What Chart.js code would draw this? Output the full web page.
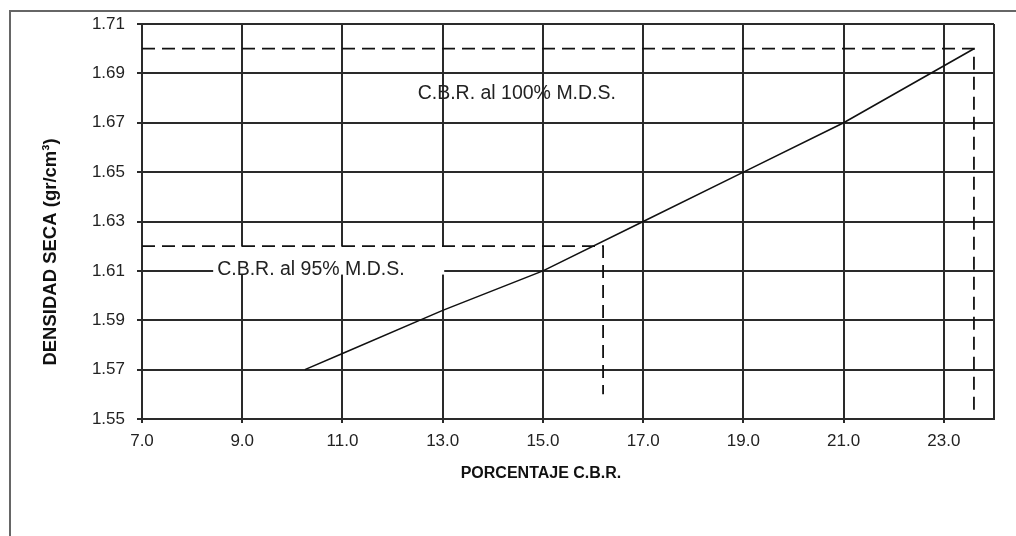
<!DOCTYPE html>
<html>
<head>
<meta charset="utf-8">
<script src="https://cdn.jsdelivr.net/npm/chart.js@4.4.1/dist/chart.umd.min.js"></script>
<style>
  html, body { margin: 0; padding: 0; background: #fff; }
  #wrap { width: 1016px; height: 536px; }
</style>
</head>
<body>
<div id="wrap"><canvas id="cbrChart" width="1016" height="536"></canvas></div>
<script>
// curve: porcentaje C.B.R. vs densidad seca
const cbrValues = [10.25, 11.0, 13.0, 15.0, 17.0, 19.0, 21.0, 23.6];
const densValues = [1.570, 1.5765, 1.594, 1.610, 1.630, 1.650, 1.670, 1.700];

// dashed reference lines (100% and 95% M.D.S.)
const ref100X = [7.0, 23.6, 23.6];
const ref100Y = [1.70, 1.70, 1.551];
const ref95X = [7.0, 16.2, 16.2];
const ref95Y = [1.62, 1.62, 1.56];

const xTicks = [7, 9, 11, 13, 15, 17, 19, 21, 23];
const yTicks = [1.55, 1.57, 1.59, 1.61, 1.63, 1.65, 1.67, 1.69, 1.71];

const label100 = 'C.B.R. al 100% M.D.S.';
const label95 = 'C.B.R. al 95% M.D.S.';
const xTitle = 'PORCENTAJE C.B.R.';
const yTitle = 'DENSIDAD SECA (gr/cm³)';

const FONT = "'Liberation Sans', Arial, sans-serif";
const GRID = '#2a2a2a';

const toPts = (xs, ys) => xs.map((x, i) => ({ x: x, y: ys[i] }));

const annotations = {
    id: 'annotations',
    beforeDatasetsDraw(chart) {
        const { ctx, scales: { x, y } } = chart;
        // white box behind the 95% label
        ctx.save();
        ctx.fillStyle = '#fff';
        const l = x.getPixelForValue(8.42), r = x.getPixelForValue(13.03);
        const t = y.getPixelForValue(1.6198), b = y.getPixelForValue(1.6085);
        ctx.fillRect(l, t, r - l, b - t);
        ctx.restore();
    },
    afterDatasetsDraw(chart) {
        const { ctx, chartArea, scales: { x, y } } = chart;
        ctx.save();
        // right edge of plot frame
        ctx.strokeStyle = GRID;
        ctx.lineWidth = 2;
        ctx.beginPath();
        ctx.moveTo(chartArea.right, chartArea.top);
        ctx.lineTo(chartArea.right, chartArea.bottom);
        ctx.stroke();

        ctx.fillStyle = '#222';
        ctx.font = '19.5px ' + FONT;
        ctx.textBaseline = 'middle';
        ctx.textAlign = 'left';
        ctx.fillText(label100, x.getPixelForValue(12.5), y.getPixelForValue(1.6818));
        ctx.fillText(label95, x.getPixelForValue(8.5), y.getPixelForValue(1.6104));
        ctx.restore();
    },
    afterDraw(chart) {
        const { ctx } = chart;
        ctx.save();
        // outer frame
        ctx.strokeStyle = '#666';
        ctx.lineWidth = 2;
        ctx.beginPath();
        ctx.moveTo(10, 536);
        ctx.lineTo(10, 11);
        ctx.lineTo(1016, 11);
        ctx.stroke();

        ctx.fillStyle = '#111';
        ctx.textAlign = 'center';
        ctx.textBaseline = 'middle';
        ctx.font = 'bold 16px ' + FONT;
        ctx.fillText(xTitle, 541, 474);
        ctx.font = 'bold 18.5px ' + FONT;
        ctx.translate(51, 252);
        ctx.rotate(-Math.PI / 2);
        ctx.fillText(yTitle, 0, 0);
        ctx.restore();
    }
};

new Chart(document.getElementById('cbrChart'), {
    type: 'scatter',
    data: {
        datasets: [
            {
                data: toPts(cbrValues, densValues),
                showLine: true,
                borderColor: '#111',
                borderWidth: 1.6,
                pointRadius: 0,
                tension: 0
            },
            {
                data: toPts(ref100X, ref100Y),
                showLine: true,
                borderColor: '#111',
                borderWidth: 1.8,
                borderDash: [13, 7],
                pointRadius: 0
            },
            {
                data: toPts(ref95X, ref95Y),
                showLine: true,
                borderColor: '#111',
                borderWidth: 1.8,
                borderDash: [13, 7],
                pointRadius: 0
            }
        ]
    },
    options: {
        responsive: false,
        animation: false,
        layout: { padding: { left: 0, right: 22, top: 24, bottom: 0 } },
        plugins: {
            legend: { display: false },
            tooltip: { enabled: false }
        },
        scales: {
            x: {
                type: 'linear',
                min: 7,
                max: 24,
                afterBuildTicks: s => { s.ticks = xTicks.map(v => ({ value: v })); },
                afterFit: s => { s.height = 117; },
                grid: { color: GRID, lineWidth: 2, tickLength: 4 },
                border: { color: GRID, width: 2 },
                ticks: {
                    color: '#222',
                    font: { family: FONT, size: 17 },
                    padding: 8,
                    maxRotation: 0,
                    callback: v => Number(v).toFixed(1)
                }
            },
            y: {
                type: 'linear',
                min: 1.55,
                max: 1.71,
                afterBuildTicks: s => { s.ticks = yTicks.map(v => ({ value: v })); },
                afterFit: s => { s.width = 142; },
                grid: { color: GRID, lineWidth: 2, tickLength: 5 },
                border: { color: GRID, width: 2 },
                ticks: {
                    color: '#222',
                    font: { family: FONT, size: 17 },
                    padding: 12,
                    callback: v => Number(v).toFixed(2)
                }
            }
        }
    },
    plugins: [annotations]
});
</script>
</body>
</html>
